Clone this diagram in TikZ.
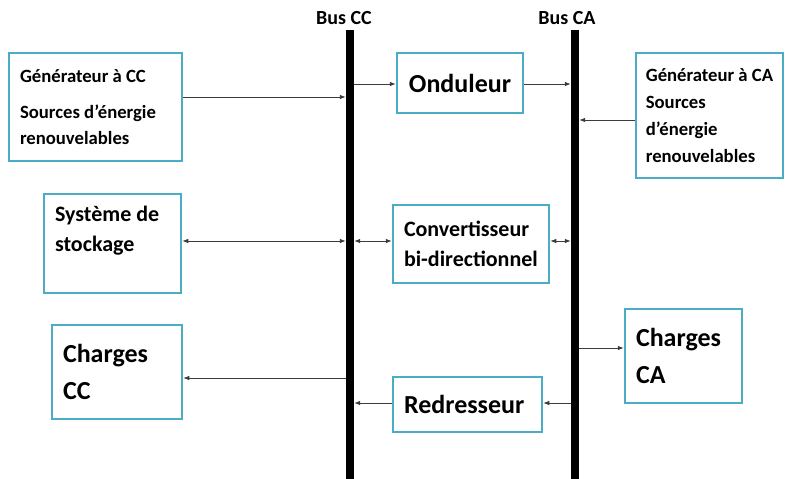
\documentclass[tikz,border=0pt]{standalone}
\usepackage{fontspec}
\setmainfont{Carlito}
\usetikzlibrary{arrows.meta}

\definecolor{cadre}{RGB}{75,172,198}
\definecolor{trait}{RGB}{60,60,60}

\tikzset{
  bloc/.style={draw=cadre, line width=2.5pt, align=flush left, inner xsep=11pt, inner ysep=0pt},
  petit/.style={font=\bfseries\fontsize{18.7}{26}\selectfont},
  moyen/.style={font=\bfseries\fontsize{22}{30}\selectfont},
  grand/.style={font=\bfseries\fontsize{26}{37}\selectfont},
  bus/.style={fill=black, inner sep=0pt, minimum width=8pt, minimum height=449pt},
  fleche/.style={draw=trait, line width=0.8pt, -{Latex[length=6pt,width=4.5pt]}},
  double/.style={draw=trait, line width=0.8pt, {Latex[length=6pt,width=4.5pt]}-{Latex[length=6pt,width=4.5pt]}}
}

\begin{document}
\begin{tikzpicture}[x=1pt, y=-1pt]

\useasboundingbox (0,0) rectangle (787,479);

% les deux bus
\node[bus] (buscc) at (350, 254.5) {};
\node[bus] (busca) at (575, 254.5) {};
\node[font=\bfseries\fontsize{20}{24}\selectfont] (lcc) at (344, 18) {Bus CC};
\node[font=\bfseries\fontsize{20}{24}\selectfont] (lca) at (567, 18) {Bus CA};

% blocs
\node[bloc, petit, text width=151pt, minimum height=108pt] (gencc) at (95.5, 107) {Générateur à CC\\[10pt] Sources d’énergie\\ renouvelables};
\node[bloc, grand, align=center, text width=104pt, minimum height=60pt] (ond) at (460, 83) {Onduleur};
\node[bloc, petit, align=left, inner xsep=0pt, minimum width=147pt, minimum height=125pt, font=\bfseries\fontsize{18.7}{27}\selectfont] (genca) at (709.5, 115.5) {Générateur à CA\\ Sources\\ d’énergie\\ renouvelables};
\node[bloc, moyen, text width=115pt, minimum height=99pt] (stock) at (112.5, 243.5) {Système de\\ stockage\\ \mbox{}};
\node[bloc, moyen, text width=134pt, minimum height=78pt] (conv) at (471, 244) {Convertisseur\\ bi-directionnel};
\node[bloc, grand, text width=108pt, minimum height=94pt] (chcc) at (117, 372) {Charges\\ CC};
\node[bloc, grand, text width=127pt, minimum height=55pt] (redr) at (467.5, 404.5) {Redresseur};
\node[bloc, grand, text width=95pt, minimum height=94pt] (chca) at (683.5, 356) {Charges\\ CA};

% liaisons
\draw[fleche] (gencc.east |- 0,97) -- (buscc.west |- 0,97);
\draw[fleche] (buscc.east |- 0,84) -- (ond.west |- 0,84);
\draw[fleche] (ond.east |- 0,84) -- (busca.west |- 0,84);
\draw[fleche] (genca.west |- 0,120) -- (busca.east |- 0,120);
\draw[double] (stock.east |- 0,241) -- (buscc.west |- 0,241);
\draw[double] (buscc.east |- 0,241) -- (conv.west |- 0,241);
\draw[double] (conv.east |- 0,241) -- (busca.west |- 0,241);
\draw[fleche] (buscc.west |- 0,378) -- (chcc.east |- 0,378);
\draw[fleche] (busca.east |- 0,348) -- (chca.west |- 0,348);
\draw[fleche] (busca.west |- 0,403) -- (redr.east |- 0,403);
\draw[fleche] (redr.west |- 0,403) -- (buscc.east |- 0,403);

\end{tikzpicture}
\end{document}
